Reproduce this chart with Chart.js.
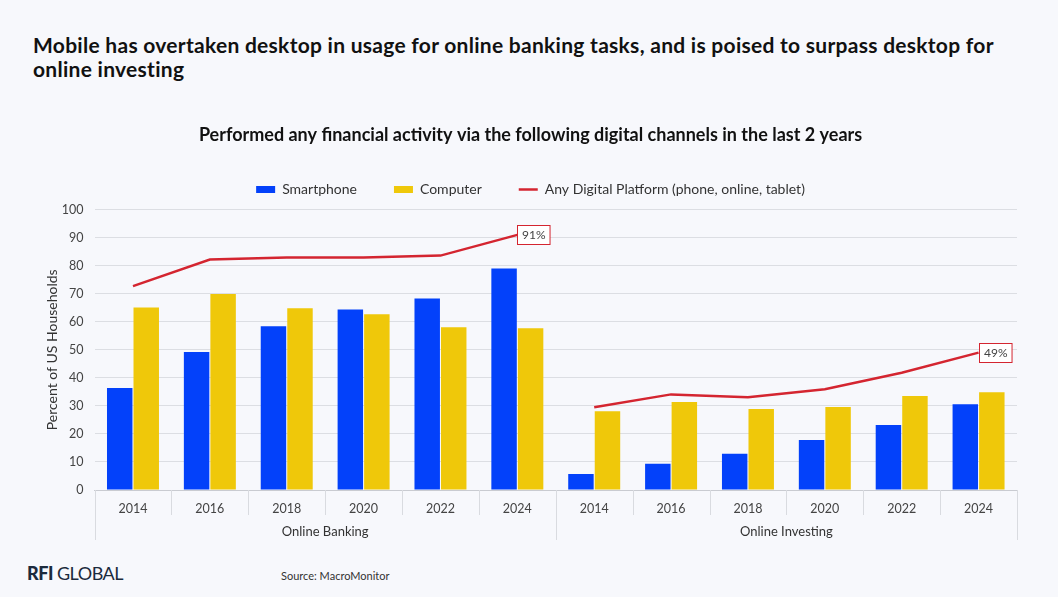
<!DOCTYPE html>
<html>
<head>
<meta charset="utf-8">
<script src="https://cdn.jsdelivr.net/npm/chart.js@4.4.1/dist/chart.umd.min.js"></script>
<style>
  html, body { margin: 0; padding: 0; background: #f7f8fc; }
  body { width: 1058px; height: 597px; position: relative; overflow: hidden; font-family: Lato, "Open Sans", sans-serif; }
  #title { position: absolute; left: 33px; top: 33px; width: 975px; font-size: 21px; font-weight: 700; line-height: 24px; letter-spacing: 0.28px; color: #111; }
  #wrap { position: absolute; left: 0; top: 112px; width: 1058px; height: 440px; }
  #logo { position: absolute; left: 27px; top: 562px; font-size: 18px; color: #1b2a3c; letter-spacing: -0.5px; }
  #logo b { font-weight: 900; }
  #source { position: absolute; left: 281px; top: 569px; font-size: 11px; color: #333; }
</style>
</head>
<body>
<div id="title">Mobile has overtaken desktop in usage for online banking tasks, and is poised to surpass desktop for online investing</div>
<div id="wrap"><canvas id="chart"></canvas></div>
<div id="logo"><b>RFI</b> GLOBAL</div>
<div id="source">Source: MacroMonitor</div>
<script>
// ---- data ----
const years = ['2014', '2016', '2018', '2020', '2022', '2024', '2014', '2016', '2018', '2020', '2022', '2024'];
const groups = ['Online Banking', 'Online Investing'];
const groupSize = 6;
const smartphone = [36.4, 49.2, 58.4, 64.4, 68.3, 79.0, 5.7, 9.4, 12.9, 17.8, 23.2, 30.6];
const computer = [65.1, 69.9, 64.8, 62.7, 58.0, 57.7, 28.1, 31.4, 28.9, 29.6, 33.5, 34.9];
const anyDigital = [72.7, 82.2, 82.9, 82.9, 83.6, 91, 29.5, 34.1, 33.1, 35.9, 41.8, 49];
const yTicks = [0, 100, 10]; // min, max, step

const BLUE = '#0341fa';
const YELLOW = '#efc80a';
const RED = '#d42530';
const FONT = 'Lato, "Open Sans", sans-serif';

// a little extra room under the legend
const legendGap = {
  id: 'legendGap',
  beforeInit(chart) {
    const fit = chart.legend.fit;
    chart.legend.fit = function () {
      fit.call(this);
      this.height += 3;
    };
  }
};

// group labels + separators under the x axis, and the end-value boxes
const extrasPlugin = {
  id: 'extras',
  afterDraw(chart) {
    const { ctx, chartArea } = chart;
    const x = chart.scales.x;
    const half = (x.getPixelForValue(1) - x.getPixelForValue(0)) / 2;
    const bottom = chartArea.bottom;

    ctx.save();
    ctx.strokeStyle = '#d9dbe0';
    ctx.lineWidth = 1;
    for (let i = 0; i <= years.length; i++) {
      const px = Math.round(x.getPixelForValue(i) - half) + 0.5;
      const isGroupEdge = i % groupSize === 0;
      ctx.beginPath();
      ctx.moveTo(px, bottom);
      ctx.lineTo(px, bottom + (isGroupEdge ? 50 : 25));
      ctx.stroke();
    }

    ctx.fillStyle = '#333';
    ctx.font = '13px ' + FONT;
    ctx.textAlign = 'center';
    ctx.textBaseline = 'middle';
    groups.forEach((g, gi) => {
      const a = x.getPixelForValue(gi * groupSize);
      const b = x.getPixelForValue(gi * groupSize + groupSize - 1);
      ctx.fillText(g, (a + b) / 2, bottom + 42);
    });

    // value boxes at the end of each line segment
    const meta = chart.getDatasetMeta(2);
    ctx.font = '12px ' + FONT;
    ctx.textAlign = 'left';
    [groupSize - 1, years.length - 1].forEach(i => {
      const pt = meta.data[i];
      const txt = Math.round(anyDigital[i]) + '%';
      const w = ctx.measureText(txt).width + 9;
      const h = 19;
      const bx = Math.round(pt.x) + 0.5;
      const by = Math.round(pt.y - h / 2) + 0.5;
      ctx.fillStyle = '#ffffff';
      ctx.fillRect(bx, by, w, h);
      ctx.strokeStyle = RED;
      ctx.strokeRect(bx, by, w, h);
      ctx.fillStyle = '#444';
      ctx.fillText(txt, bx + 4.5, by + h / 2 + 0.5);
    });
    ctx.restore();
  }
};

new Chart(document.getElementById('chart'), {
  type: 'bar',
  data: {
    labels: years,
    datasets: [
      {
        label: 'Smartphone',
        data: smartphone,
        backgroundColor: BLUE,
        pointStyle: 'rect',
        barPercentage: 0.96,
        categoryPercentage: 0.69,
        order: 1
      },
      {
        label: 'Computer',
        data: computer,
        backgroundColor: YELLOW,
        pointStyle: 'rect',
        barPercentage: 0.96,
        categoryPercentage: 0.69,
        order: 1
      },
      {
        type: 'line',
        label: 'Any Digital Platform (phone, online, tablet)',
        data: anyDigital,
        borderColor: RED,
        backgroundColor: RED,
        borderWidth: 2.5,
        pointRadius: 0,
        pointStyle: 'line',
        tension: 0,
        order: 0,
        segment: {
          // no line between the two groups
          borderColor: c => c.p0DataIndex === groupSize - 1 ? 'rgba(0,0,0,0)' : RED
        }
      }
    ]
  },
  options: {
    responsive: true,
    maintainAspectRatio: false,
    animation: false,
    layout: { padding: { left: 44, right: 41, top: 10, bottom: 33 } },
    plugins: {
      title: {
        display: true,
        text: 'Performed any financial activity via the following digital channels in the last 2 years',
        color: '#111',
        font: { family: FONT, size: 18, weight: '700' },
        padding: { top: 2, bottom: 0 }
      },
      legend: {
        position: 'top',
        labels: {
          usePointStyle: true,
          pointStyleWidth: 19,
          boxHeight: 7,
          padding: 37,
          color: '#333',
          font: { family: FONT, size: 14 },
          sort: (a, b) => a.datasetIndex - b.datasetIndex,
          generateLabels(chart) {
            const items = Chart.defaults.plugins.legend.labels.generateLabels(chart);
            items.forEach(it => { if (it.datasetIndex === 2) it.lineWidth = 2.5; });
            return items;
          }
        }
      },
      tooltip: { enabled: false }
    },
    scales: {
      x: {
        grid: { display: false },
        border: { color: '#c9cbd1' },
        ticks: { color: '#444', padding: 3, font: { family: FONT, size: 12.5 } }
      },
      y: {
        min: yTicks[0],
        max: yTicks[1],
        afterFit(scale) { scale.width -= 10; },
        ticks: { stepSize: yTicks[2], color: '#444', padding: 11, font: { family: FONT, size: 12.5 } },
        grid: { color: '#dcdee3', drawTicks: false },
        border: { display: false },
        title: {
          display: true,
          text: 'Percent of US Households',
          color: '#333',
          font: { family: FONT, size: 14 },
          padding: { top: 0, bottom: 0 }
        }
      }
    }
  },
  plugins: [legendGap, extrasPlugin]
});
</script>
</body>
</html>
